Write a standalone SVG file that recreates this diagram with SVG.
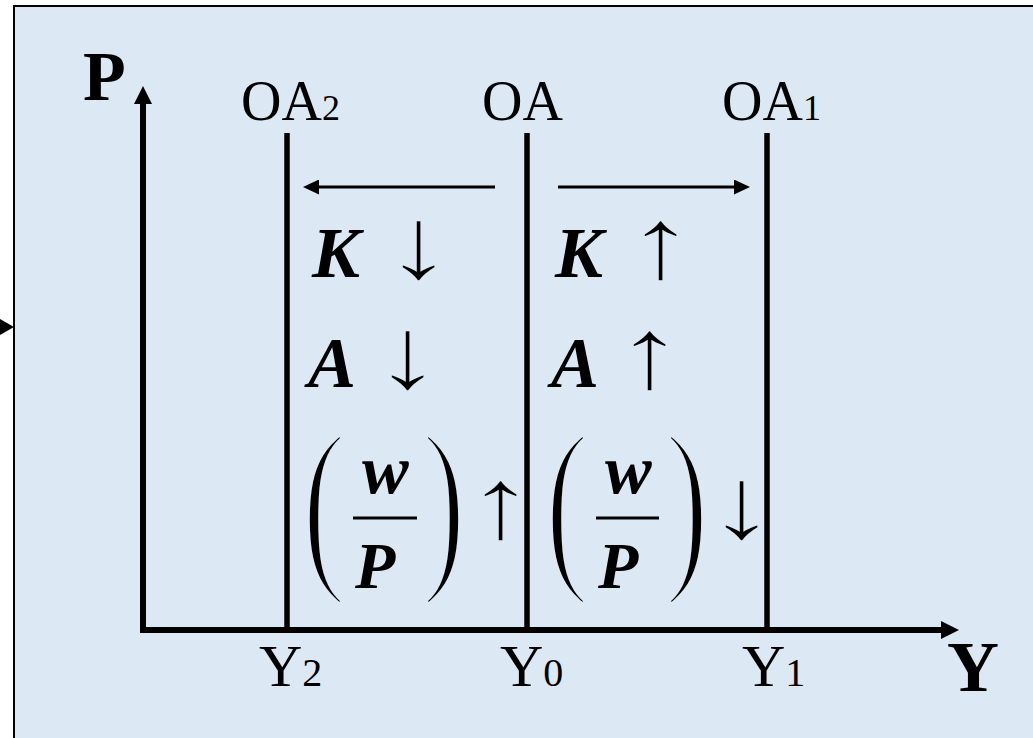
<svg xmlns="http://www.w3.org/2000/svg" width="1033" height="738" viewBox="0 0 1033 738">
<style>
.t{font-family:"Liberation Serif","Times New Roman",serif;fill:#000}
.lab{font-size:56px}
.sub{font-size:36px}
.ysub{font-size:40px}
.bi{font-style:italic;font-weight:bold}
.ar{font-family:"Liberation Serif","Times New Roman",serif;font-size:66px;fill:#000;stroke:#DDE8F5;stroke-width:1.1}
.par{font-family:"Liberation Serif","Times New Roman",serif;font-size:120px;fill:#000;stroke:#DDE8F5;stroke-width:3.6}
.curve{stroke:#000;stroke-width:5.5;fill:none}
.axis{stroke:#000;stroke-width:6;fill:none;stroke-linecap:square}
.shift{stroke:#000;stroke-width:3;fill:none}
</style>
<defs>
<marker id="bigHead" markerUnits="userSpaceOnUse" markerWidth="18" markerHeight="18" refX="0" refY="9" orient="auto" viewBox="0 0 18 18">
<polygon points="0,0 18,9 0,18" fill="#000"/>
</marker>
<marker id="smallHead" markerUnits="userSpaceOnUse" markerWidth="16" markerHeight="15" refX="0" refY="7.5" orient="auto" viewBox="0 0 16 15">
<polygon points="0,0 16,7.5 0,15" fill="#000"/>
</marker>
</defs>
<rect x="14" y="6" width="1030" height="740" fill="#DDE8F5" stroke="#000" stroke-width="2"/>
<g id="connectors">
<polygon points="0,319 14,327 0,335" fill="#000"/>
<line class="axis" x1="143" y1="630" x2="143" y2="104" marker-end="url(#bigHead)"/>
<line class="axis" x1="143" y1="630" x2="941" y2="630" marker-end="url(#bigHead)"/>
<line class="shift" x1="495" y1="187" x2="319" y2="187" marker-end="url(#smallHead)"/>
<line class="shift" x1="558" y1="187" x2="734" y2="187" marker-end="url(#smallHead)"/>
</g>
<g id="axis-P"><text class="t" x="83" y="100" font-size="70" font-weight="bold">P</text></g>
<g id="axis-Y"><text class="t" x="947" y="691" font-size="72" font-weight="bold">Y</text></g>
<g id="OA2">
<line class="curve" x1="287" y1="133" x2="287" y2="630"/>
<text class="t lab" x="241" y="120">OA<tspan class="sub">2</tspan></text>
</g>
<g id="OA">
<line class="curve" x1="527" y1="133" x2="527" y2="630"/>
<text class="t lab" x="482" y="120">OA</text>
</g>
<g id="OA1">
<line class="curve" x1="767" y1="133" x2="767" y2="630"/>
<text class="t lab" x="722" y="120">OA<tspan class="sub">1</tspan></text>
</g>
<g id="Y2"><text class="t" x="259" y="686" font-size="60">Y<tspan class="ysub">2</tspan></text></g>
<g id="Y0"><text class="t" x="500" y="686" font-size="60">Y<tspan class="ysub">0</tspan></text></g>
<g id="Y1"><text class="t" x="742" y="686" font-size="60">Y<tspan class="ysub">1</tspan></text></g>
<g id="left-effects">
<text class="t bi" x="312" y="277" font-size="72">K</text>
<text class="ar" transform="translate(382,278) scale(2.2,1.55)">↓</text>
<text class="t bi" x="308" y="387" font-size="72">A</text>
<text class="ar" transform="translate(371,388) scale(2.2,1.55)">↓</text>
<text class="par" transform="translate(302,566) scale(1.1,1.6)">(</text>
<text class="t bi" x="362" y="493" font-size="70">w</text>
<line class="shift" x1="353" y1="518" x2="417" y2="518"/>
<text class="t bi" x="355" y="588" font-size="66">P</text>
<text class="par" transform="translate(422,566) scale(1.1,1.6)">)</text>
<text class="ar" transform="translate(464,538) scale(2.2,1.55)">↑</text>
</g>
<g id="right-effects">
<text class="t bi" x="555" y="277" font-size="72">K</text>
<text class="ar" transform="translate(624,278) scale(2.2,1.55)">↑</text>
<text class="t bi" x="551" y="387" font-size="72">A</text>
<text class="ar" transform="translate(613,388) scale(2.2,1.55)">↑</text>
<text class="par" transform="translate(545,566) scale(1.1,1.6)">(</text>
<text class="t bi" x="605" y="493" font-size="70">w</text>
<line class="shift" x1="596" y1="518" x2="659" y2="518"/>
<text class="t bi" x="598" y="588" font-size="66">P</text>
<text class="par" transform="translate(665,566) scale(1.1,1.6)">)</text>
<text class="ar" transform="translate(705,538) scale(2.2,1.55)">↓</text>
</g>
</svg>
